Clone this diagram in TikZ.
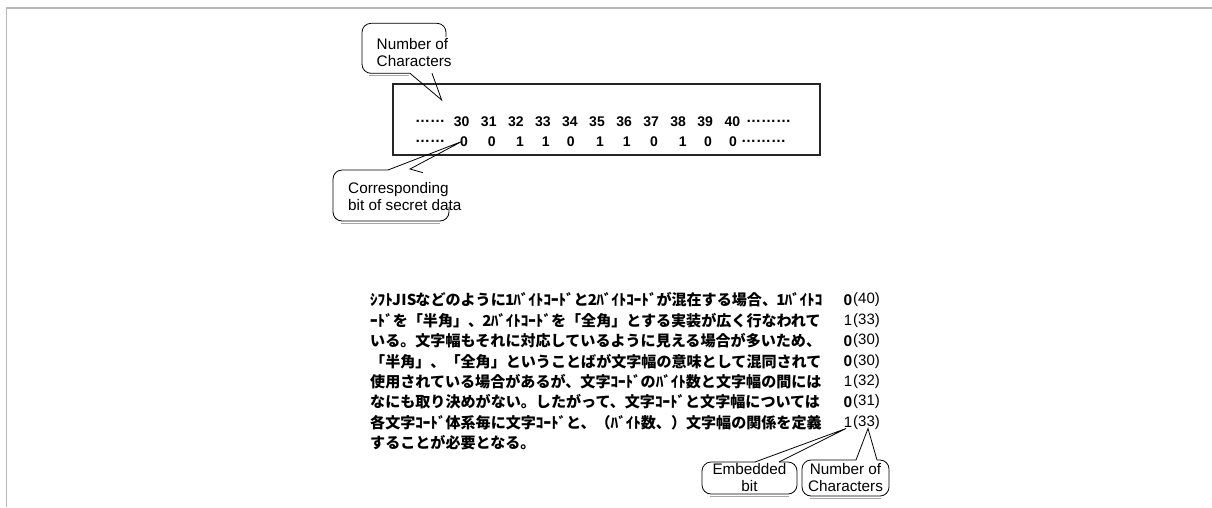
\documentclass[tikz,border=0pt]{standalone}
\usepackage{fontspec}
\setmainfont{Liberation Sans}
\newfontfamily\jp{Noto Sans CJK JP}
\newcommand\hw[1]{\makebox[.5em]{#1}}
\tikzset{
  x=1pt,y=-1pt,
  frame/.style={draw=black!28,line width=1.8pt},
  cline/.style={draw=black,line width=0.8pt,rounded corners=9pt},
  shadow/.style={draw=black!35,line width=1.2pt},
  ptr/.style={draw=black,line width=0.8pt},
  lbl/.style={font=\fontsize{15.3}{17}\selectfont,align=left,inner sep=0pt},
  num/.style={font=\fontsize{14}{14}\bfseries\selectfont,inner sep=0pt},
  dots/.style={font=\fontsize{15}{15}\bfseries\selectfont,inner sep=0pt,anchor=west},
  jl/.style={font=\fontsize{15.07}{15.07}\jp\bfseries\selectfont,anchor=west,inner sep=0pt},
  cnt/.style={font=\fontsize{15}{15}\selectfont,anchor=west,inner sep=0pt},
  bitb/.style={font=\fontsize{15.5}{15}\bfseries\selectfont,inner sep=0pt},
  bitm/.style={font=\fontsize{15}{15}\selectfont,inner sep=0pt}
}
\begin{document}
\begin{tikzpicture}
\useasboundingbox (0,0) rectangle (1212,507);
\fill[white] (0,0) rectangle (1212,507);
% frame
\draw[frame] (6.5,507) -- (6.5,8.3) -- (1212,8.3);
% main box
\draw[draw=black!85,line width=1.3pt] (393,84) rectangle (820,155);
% row 1
\node[dots] (d1) at (415,121.5) {……};
\foreach \n [count=\i from 0] in {30,31,32,33,34,35,36,37,38,39,40} {
  \node[num] (n\n) at ({461.7+\i*27.06},121.5) {\n};
}
\node[dots] (d2) at (746,121.5) {………};
% row 2
\node[dots] (d3) at (415,141.5) {……};
\foreach \b/\x [count=\i] in {0/464,0/491.7,1/520,1/545.7,0/570.7,1/600,1/626.7,0/654,1/682.7,0/708,0/733} {
  \node[num] (b\i) at (\x,141.5) {\b};
}
\node[dots] (d4) at (741,141.5) {………};
% callout 1 : Number of Characters
\coordinate (c1a) at (410,73.3);
\coordinate (c1b) at (432,73.3);
\coordinate (c1t) at (441.7,100);
\draw[shadow] (369,75.5) -- (409,75.5);
\draw[cline] (c1a) -- (362,73.3) -- (362,23.3) -- (446,23.3) -- (446,37);
\node[lbl,anchor=west] (c1) at (376.5,52.5) {Number of\\Characters};
\draw[ptr] (c1a) -- (c1t) -- (c1b);
% callout 2 : Corresponding bit
\coordinate (c2a) at (388,170);
\coordinate (c2b) at (410,169);
\coordinate (c2t) at (461.7,141.5);
\draw[shadow] (341,223.2) -- (440,223.2);
\draw[cline] (c2a) -- (333,170) -- (333,221) -- (449,221) -- (449,207);
\node[lbl,anchor=west] (c2) at (348,196.5) {Corresponding\\bit of secret data};
\draw[ptr] (c2a) -- (c2t) -- (c2b) -- (423,172.7);
% Japanese text
\foreach \t [count=\i from 0] in {
 {ｼﾌﾄ\hw{J}\hw{I}\hw{S}などのように\hw{1}ﾊﾞｲﾄｺｰﾄﾞと\hw{2}ﾊﾞｲﾄｺｰﾄﾞが混在する場合、\hw{1}ﾊﾞｲﾄｺ},
 {ｰﾄﾞを「半角」、\hw{2}ﾊﾞｲﾄｺｰﾄﾞを「全角」とする実装が広く行なわれて},
 {いる。文字幅もそれに対応しているように見える場合が多いため、},
 {「半角」、「全角」ということばが文字幅の意味として混同されて},
 {使用されている場合があるが、文字ｺｰﾄﾞのﾊﾞｲﾄ数と文字幅の間には},
 {なにも取り決めがない。したがって、文字ｺｰﾄﾞと文字幅については},
 {各文字ｺｰﾄﾞ体系毎に文字ｺｰﾄﾞと、（ﾊﾞｲﾄ数、）文字幅の関係を定義},
 {することが必要となる。}} {
  \node[jl] (j\i) at (370,{300+\i*20.4}) {\t};
}
% bits and counts
\foreach \b/\c/\w [count=\i from 0] in {0/40/bitb,1/33/bitm,0/30/bitb,0/30/bitb,1/32/bitm,0/31/bitb,1/33/bitm} {
  \node[\w] (e\i) at (848,{300+\i*20.4}) {\b};
  \node[cnt] (k\i) at (853,{300+\i*20.4}) {(\c)};
}
% callout 3 : Embedded bit
\coordinate (c3a) at (755,462);
\coordinate (c3b) at (779,462);
\coordinate (c3t) at (846,428.5);
\draw[shadow] (710,496.2) -- (789,496.2);
\draw[cline] (c3a) -- (702,462) -- (702,494) -- (797,494) -- (797,462) -- (c3b);
\node[lbl,align=center] (c3) at (749.5,477.5) {Embedded\\bit};
\draw[ptr] (c3a) -- (c3t) -- (c3b);
% callout 4 : Number of Characters
\coordinate (c4a) at (856,460);
\coordinate (c4b) at (877,460);
\coordinate (c4t) at (868,428.5);
\draw[shadow] (810,498.2) -- (881,498.2);
\draw[cline] (c4a) -- (802,460) -- (802,496) -- (889,496) -- (889,460) -- (c4b);
\node[lbl,align=center] (c4) at (845.5,477.5) {Number of\\Characters};
\draw[ptr] (c4a) -- (c4t) -- (c4b);
\end{tikzpicture}
\end{document}
